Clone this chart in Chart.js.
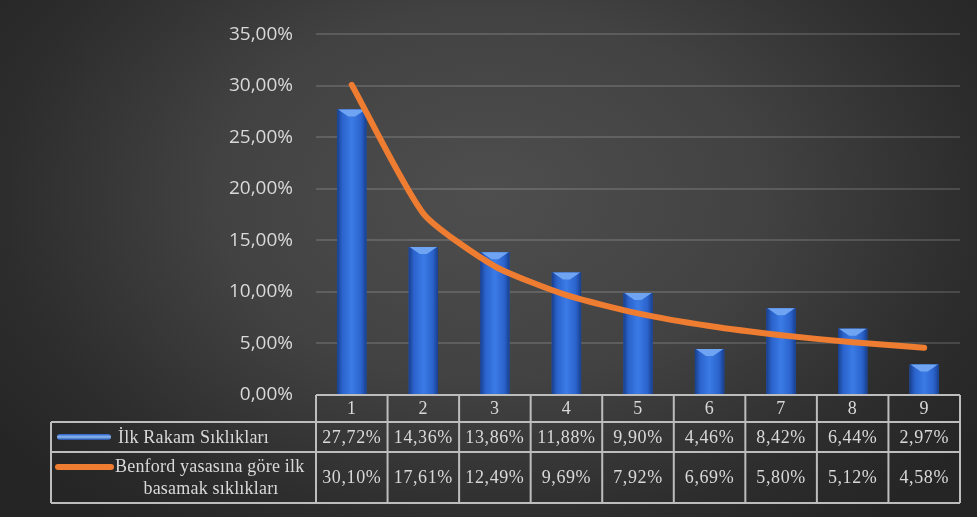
<!DOCTYPE html>
<html>
<head>
<meta charset="utf-8">
<script src="https://cdn.jsdelivr.net/npm/chart.js@4.4.1/dist/chart.umd.min.js"></script>
<style>
  html, body { margin: 0; padding: 0; }
  body {
    width: 977px; height: 517px; overflow: hidden;
    background: radial-gradient(ellipse 62% 80% at 50% 38%, #4e4e4e 0%, #424242 45%, #2d2d2d 80%, #252525 100%);
  }
  #wrap { position: relative; width: 977px; height: 517px; }
</style>
</head>
<body>
<div id="wrap"><canvas id="c" width="977" height="517"></canvas></div>
<script>
// First-digit frequencies (%) and Benford's law expectations
const categories = ['1', '2', '3', '4', '5', '6', '7', '8', '9'];
const ilkRakam = [27.72, 14.36, 13.86, 11.88, 9.90, 4.46, 8.42, 6.44, 2.97];
const benford = [30.10, 17.61, 12.49, 9.69, 7.92, 6.69, 5.80, 5.12, 4.58];
const seriesNames = ['İlk Rakam Sıklıkları', 'Benford yasasına göre ilk basamak sıklıkları'];
const yTicks = [0, 5, 10, 15, 20, 25, 30, 35];

const fmtPct = v => v.toFixed(2).replace('.', ',') + '%';

const TEXT = '#d9d9d9';
const LINE_COL = '#ee7d31';
const TABLE_LINE = '#bdbdbd';

// Shades the bars with a cylinder-like gradient and a bevelled top
const barShade = {
  id: 'barShade',
  afterDatasetDraw(chart, args) {
    if (args.index !== 0) return;
    const ctx = chart.ctx;
    args.meta.data.forEach(el => {
      const left = el.x - el.width / 2, right = el.x + el.width / 2;
      const top = el.y, base = el.base;
      const g = ctx.createLinearGradient(left, 0, right, 0);
      g.addColorStop(0, '#183f8c');
      g.addColorStop(0.18, '#2b63cc');
      g.addColorStop(0.5, '#3b7be6');
      g.addColorStop(0.82, '#2b63cc');
      g.addColorStop(1, '#183f8c');
      ctx.save();
      ctx.fillStyle = g;
      ctx.fillRect(left, top, right - left, base - top);
      // bevel on top
      const bev = Math.min(7, (base - top) / 2);
      ctx.beginPath();
      ctx.moveTo(left + 1, top);
      ctx.lineTo(right - 1, top);
      ctx.lineTo(el.x + el.width * 0.12, top + bev);
      ctx.lineTo(el.x - el.width * 0.12, top + bev);
      ctx.closePath();
      ctx.fillStyle = '#6ea4f2';
      ctx.fill();
      ctx.restore();
    });
  }
};

// Data table under the plot, aligned on the category scale
const dataTable = {
  id: 'dataTable',
  afterDraw(chart) {
    const ctx = chart.ctx;
    const x = chart.scales.x;
    const area = chart.chartArea;
    const n = categories.length;
    const step = (area.right - area.left) / n;
    const tableLeft = 51;
    const y0 = area.bottom, y1 = y0 + 27, y2 = y1 + 30, y3 = y2 + 51;

    ctx.save();
    ctx.strokeStyle = TABLE_LINE;
    ctx.lineWidth = 2;
    ctx.beginPath();
    // horizontal rules
    ctx.moveTo(area.left, y0); ctx.lineTo(area.right, y0);
    ctx.moveTo(tableLeft, y1); ctx.lineTo(area.right, y1);
    ctx.moveTo(tableLeft, y2); ctx.lineTo(area.right, y2);
    ctx.moveTo(tableLeft, y3); ctx.lineTo(area.right, y3);
    // vertical rules
    ctx.moveTo(tableLeft, y1); ctx.lineTo(tableLeft, y3);
    for (let i = 0; i <= n; i++) {
      const cx = area.left + i * step;
      ctx.moveTo(cx, y0); ctx.lineTo(cx, y3);
    }
    ctx.stroke();

    ctx.fillStyle = TEXT;
    ctx.font = '18px "Liberation Serif", serif';
    ctx.textAlign = 'center';
    ctx.textBaseline = 'middle';
    if ('letterSpacing' in ctx) ctx.letterSpacing = '0.6px';
    categories.forEach((c, i) => {
      const cx = x.getPixelForValue(i);
      ctx.fillText(c, cx, (y0 + y1) / 2 + 1);
      ctx.fillText(fmtPct(ilkRakam[i]), cx, (y1 + y2) / 2 + 1);
      ctx.fillText(fmtPct(benford[i]), cx, (y2 + y3) / 2 + 1);
    });

    // legend keys
    const kb = ctx.createLinearGradient(0, (y1 + y2) / 2 - 3, 0, (y1 + y2) / 2 + 3);
    kb.addColorStop(0, '#2a5fc4');
    kb.addColorStop(0.5, '#8fbaf5');
    kb.addColorStop(1, '#1c4aa0');
    ctx.lineCap = 'round';
    ctx.strokeStyle = kb;
    ctx.lineWidth = 6;
    ctx.beginPath();
    ctx.moveTo(60, (y1 + y2) / 2); ctx.lineTo(108, (y1 + y2) / 2);
    ctx.stroke();
    ctx.strokeStyle = LINE_COL;
    ctx.lineWidth = 6;
    ctx.beginPath();
    ctx.moveTo(58, y2 + 15); ctx.lineTo(111, y2 + 15);
    ctx.stroke();

    // series names
    ctx.font = '18px "Liberation Serif", serif';
    if ('letterSpacing' in ctx) ctx.letterSpacing = '0.2px';
    ctx.textAlign = 'left';
    ctx.fillText(seriesNames[0], 118, (y1 + y2) / 2 + 1);
    const words = seriesNames[1].split(' ');
    ctx.fillText(words.slice(0, 4).join(' '), 115, y2 + 15);
    ctx.textAlign = 'center';
    ctx.fillText(words.slice(4).join(' '), 211, y2 + 37);
    ctx.restore();
  }
};

new Chart(document.getElementById('c'), {
  type: 'bar',
  data: {
    labels: categories,
    datasets: [
      {
        type: 'bar',
        label: seriesNames[0],
        data: ilkRakam,
        backgroundColor: '#2b63cc',
        borderWidth: 0,
        categoryPercentage: 0.41,
        barPercentage: 1,
        order: 1
      },
      {
        type: 'line',
        label: seriesNames[1],
        data: benford,
        borderColor: LINE_COL,
        borderWidth: 6,
        borderCapStyle: 'round',
        borderJoinStyle: 'round',
        pointRadius: 0,
        tension: 0.2,
        fill: false,
        order: 0
      }
    ]
  },
  options: {
    responsive: false,
    animation: false,
    layout: { padding: { left: 0, right: 17, top: 31, bottom: 122 } },
    plugins: { legend: { display: false }, tooltip: { enabled: false } },
    scales: {
      x: { display: false, offset: true },
      y: {
        min: 0, max: 35,
        afterFit(scale) { scale.width = 316; },
        afterBuildTicks(scale) { scale.ticks = yTicks.map(v => ({ value: v })); },
        border: { display: false },
        grid: {
          color: ctx => ctx.tick && ctx.tick.value === 0 ? 'rgba(0,0,0,0)' : 'rgba(255,255,255,0.14)',
          lineWidth: 2,
          drawTicks: false
        },
        ticks: {
          padding: 23,
          color: TEXT,
          font: { family: '"Open Sans", sans-serif', size: 19 },
          callback: v => fmtPct(v)
        }
      }
    }
  },
  plugins: [barShade, dataTable]
});
</script>
</body>
</html>
